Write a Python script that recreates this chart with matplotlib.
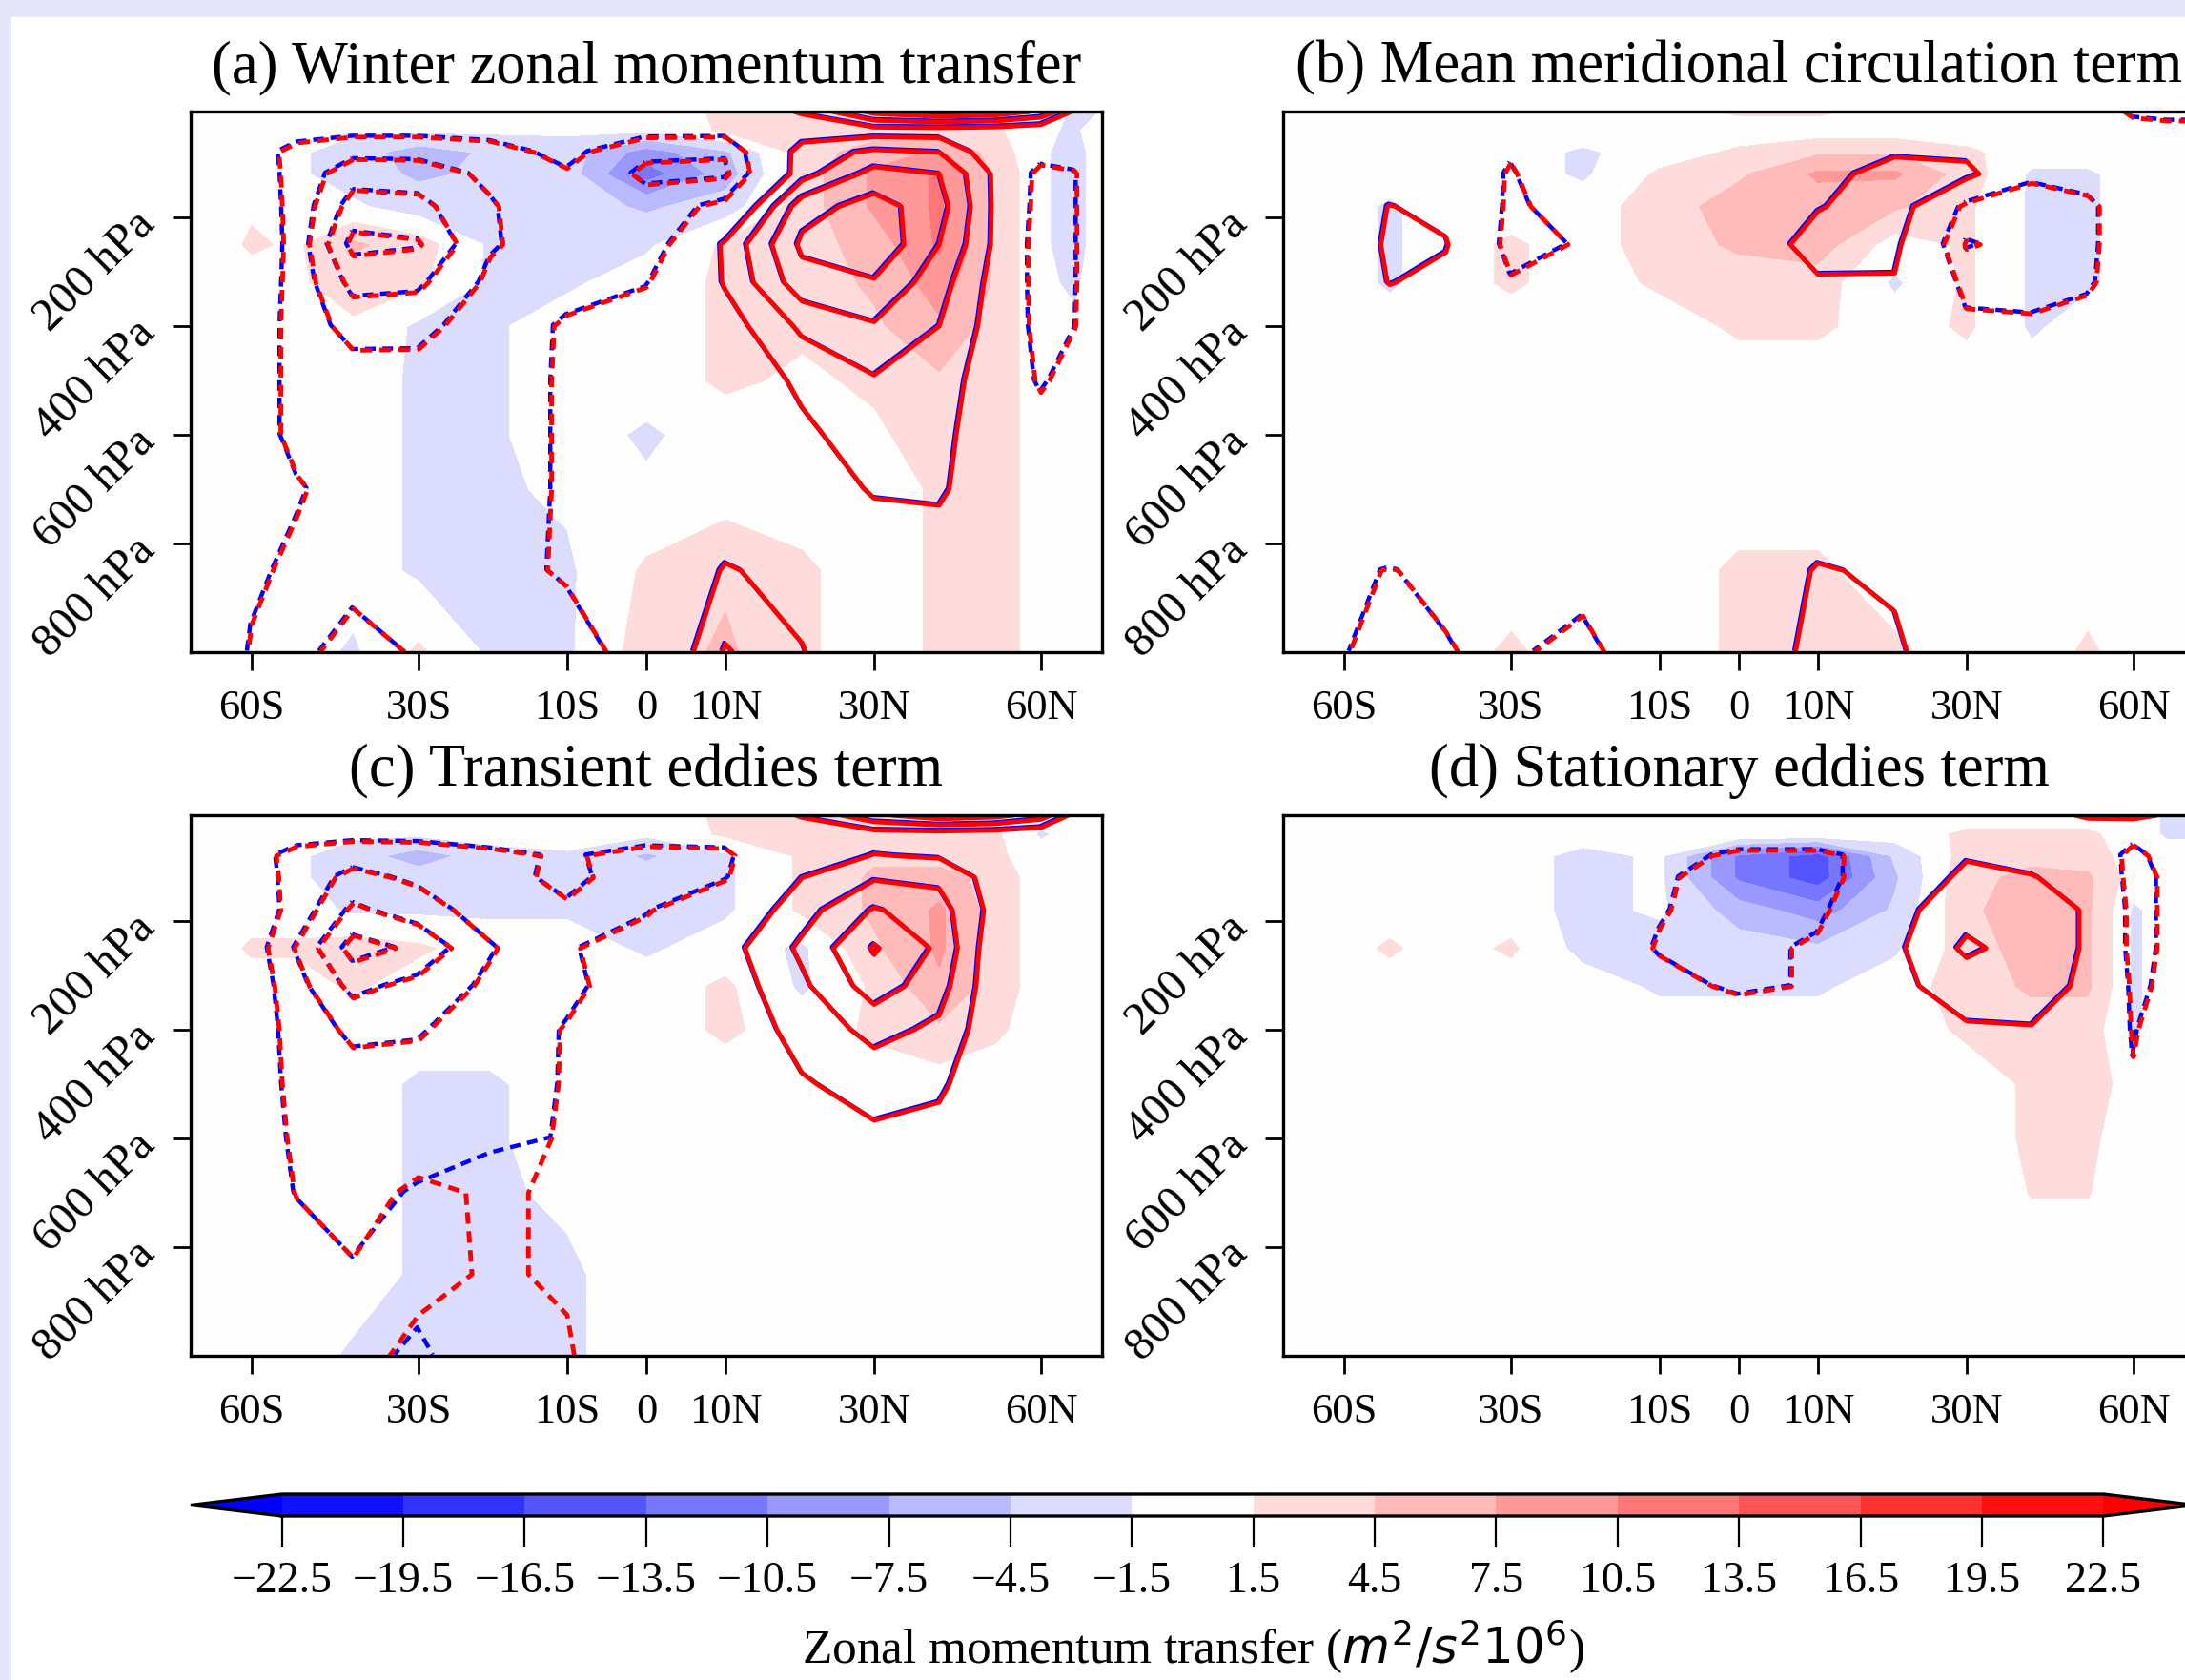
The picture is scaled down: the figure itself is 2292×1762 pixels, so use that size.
import numpy as np
import matplotlib
matplotlib.use("Agg")
import matplotlib.pyplot as plt
from matplotlib import transforms
from matplotlib.patches import Rectangle

plt.rcParams["font.family"] = ["Liberation Serif", "DejaVu Serif"]
plt.rcParams["mathtext.fontset"] = "dejavusans"

# grid: latitude (deg) and pressure (hPa)
LATS = [-90, -80, -70, -60, -50, -40, -30, -20, -10, 0, 10, 20, 30, 40, 50, 60, 70, 80, 90]
LEVS = [5, 40, 80, 120, 180, 250, 320, 400, 500, 600, 700, 850, 1000]

# (a) winter zonal momentum transfer
SHADE_A = [
    [0, 0, 0, 0, 0, 0, 0, 0, 0, 0, 2, 3, 3, 2, 2, 0, -2, -2, 0],
    [0, 0, 0, 0, 0, -1, -1, -1, -1, -1, 2, 3, 3, 3, 2, -1, -2, 0, 0],
    [0, 0, 0, 0, -1, -3, -6, -4, -3, -9, -5, 3, 6, 8, 3, -1, -3, 0, 0],
    [0, 0, 0, 0, -1, -3, -5, -4, -3, -12, -6, 3, 8, 11, 4, -1, -3, 0, 0],
    [0, 0, 0, 1, -1, -1, -3, -3, -3, -5, -3, 3, 8, 11, 4, -1, -3, 0, 0],
    [0, 0, 0, 2, 1, 5, 3, -2, -3, -2, 2, 3, 6, 11, 4, -1, -3, 0, 0],
    [0, 0, 0, 0, 1, 3, 2, -2, -2, 0, 2, 3, 5, 9, 4, -1, -2, 0, 0],
    [0, 0, 0, 0, 0, 1, -2, -2, 0, 0, 2, 2, 4, 7, 3, 0, -1, 0, 0],
    [0, 0, 0, 0, 0, 0, -2, -2, 0, 0, 2, 1, 2, 4, 3, 0, 0, 0, 0],
    [0, 0, 0, 0, 0, 0, -2, -2, 0, -2, 0, 0, 1, 3, 3, 0, 0, 0, 0],
    [0, 0, 0, 0, 0, 0, -2, -2, -1, -1, 0, 0, 0, 2, 3, 0, 0, 0, 0],
    [0, 0, 0, 0, 0, 0, -2, -2, -2, 2, 4, 2, 0, 2, 3, 0, 0, 0, 0],
    [0, 0, 0, 0, 0, -2, 2, -2, -2, 3, 5, 2, 0, 2, 3, 0, 0, 0, 0],
]
LINE_A = [
    [0, 0, 0, 0, 0, 0, 0, 0, 0, 0, 2, 11, 33, 39, 36, 28, 8, 0, 0],
    [0, 0, 0, -2, -6, -7, -7, -6, -5, -6, -6, 4, 5, 5, 4, 2, 0, 0, 0],
    [0, 0, -2, -5, -13, -17, -17, -14, -7, -18, -19, 15, 22, 20, 2, -3, -4, 0, 0],
    [0, 0, -1, -4, -13, -26, -25, -18, -11, -22, -22, 16, 34, 30, 8, -15, -11, 0, 0],
    [0, 0, -1, -3, -13, -34, -33, -21, -12, -16, -7, 36, 44, 34, 8, -16, -11, 0, 0],
    [0, 0, -1, -2, -13, -43, -41, -21, -15, -19, 12, 42, 48, 30, 8, -18, -11, 0, 0],
    [0, 0, -1, -3, -13, -33, -32, -18, -13, -11, 11, 36, 39, 24, 6, -17, -11, 0, 0],
    [0, 0, -1, -4, -13, -24, -23, -15, -9, -2, 5, 22, 29, 20, 5, -16, -10.5, 0, 0],
    [0, 0, -1, -4, -13, -15, -16, -14, -9, -3, 2, 12, 19, 16, 2, -12, -3, 0, 0],
    [0, 0, -1, -4, -13, -14, -15, -14, -9, -2, 0, 8, 15, 14, 0, -3, 0, 0, 0],
    [0, 0, -1, -3, -9, -14, -15, -14, -9, -2, 0, 4, 11, 12, 0, 0, 0, 0, 0],
    [0, 0, -1, -8, -12, -13, -12, -13, -9, -3, 11, 6, 2, 2, 0, 0, 0, 0, 0],
    [0, 0, 0, -11, -14, -28, -18, -15, -14, -6, 21, 10.5, 0, 0, 0, 0, 0, 0, 0],
]

# (b) mean meridional circulation term
SHADE_B = [
    [0, 0, 0, 0, 0, 0, 0, 0, 0, 2, 2, 0, 0, 0, 0, 0, 0, 0, 0],
    [0, 0, 0, 0, 0, 0, 0, 0, 0, 0, 0, 0, 0, 0, 0, 0, 0, 0, 0],
    [0, 0, 0, 0, 0, 0, 0, -2, 0, 2, 4, 4, 2, 0, 0, 0, 0, 0, 0],
    [0, 0, 0, 0, 0, 0, 0, -2, 2, 4, 8, 8, 3, -2, -2, 0, 0, 0, 0],
    [0, 0, 0, 0, -2, 0, 0, 0, 3, 6, 6, 5, 2, -2, -2, 0, 0, 0, 0],
    [0, 0, 0, 0, -2, 0, 2, 0, 3, 5, 6, 0, 2, -2, -2, 0, 0, 0, 0],
    [0, 0, 0, 0, -2, 0, 2, 0, 2, 3, 3, -2, 2, -2, -2, 0, 0, 0, 0],
    [0, 0, 0, 0, 0, 0, 0, 0, 0, 2, 2, 0, 2, -2, 0, 0, 0, 0, 0],
    [0, 0, 0, 0, 0, 0, 0, 0, 0, 0, 0, 0, 0, 0, 0, 0, 0, 0, 0],
    [0, 0, 0, 0, 0, 0, 0, 0, 0, 0, 0, 0, 0, 0, 0, 0, 0, 0, 0],
    [0, 0, 0, 0, 0, 0, 0, 0, 0, 0, 0, 0, 0, 0, 0, 0, 0, 0, 0],
    [0, 0, 0, 0, 0, 0, 0, 0, 0, 2, 2, 0, 0, 0, 0, 0, 0, 0, 0],
    [0, 0, 0, 0, 0, 0, 2, 0, 0, 2, 4, 2, 0, 0, 2, 0, 0, 0, 0],
]
LINE_B = [
    [0, 0, 0, 0, 0, 0, 0, 0, 0, 0, 0, 0, 0, 0, 0, -13, -14, -14, -5],
    [0, 0, 0, 0, 0, 0, -2, 0, 0, 0, 0, 0, 0, 0, 0, -4, -6, -6, -3],
    [0, 0, 0, 0, 0, 0, -9, 0, 0, 0, 0, 8, 7, 0, 0, 0, 0, 0, 0],
    [0, 0, 0, 0, 0, 0, -11, 0, 0, 0, 4, 17, 14, -8, -4, 0, 0, 0, 0],
    [0, 0, 0, 0, 10.5, 6, -12, -5, 0, 0, 9, 18, -13, -15, -13, 0, 0, 0, 0],
    [0, 0, 0, -4, 13, 11, -14, -9, 0, -3, 17, 13, -21, -16, -13, 0, 0, 0, 0],
    [0, 0, 0, 0, 10.5, 6, -9, -3, 0, 0, 8, 9, -13, -15, -12, 0, 0, 0, 0],
    [0, 0, 0, 0, 0, 0, 0, 0, 0, 0, 0, 0, -8, -8, -5, 0, 0, 0, 0],
    [0, 0, 0, 0, 0, 0, 0, 0, 0, 0, 0, 0, 0, 0, 0, 0, 0, 0, 0],
    [0, 0, 0, 0, 0, 0, 0, 0, 0, 0, 0, 0, 0, 0, 0, 0, 0, 0, 0],
    [0, 0, 0, 0, 0, 0, 0, 0, 0, 0, 0, 0, 0, 0, 0, 0, 0, 0, 0],
    [0, 0, 0, -8.5, -10.3, -8.5, -2, -5, 0, 0, 11, 8, 0, 0, 0, 0, 0, 0, 0],
    [0, 0, 0, -9, -16, -10.5, -8, -14, 0, 0, 14, 12, 0, 0, 0, 0, 0, 0, 0],
]

# (c) transient eddies term
SHADE_C = [
    [0, 0, 0, 0, 0, 0, 0, 0, 0, 0, 2, 2, 2, 0, 0, 0, 0, 0, 0],
    [0, 0, 0, 0, 0, -1, -1, 0, 0, -1, 2, 2, 2, 2, 2, -2, 0, 0, 0],
    [0, 0, 0, 0, -1, -3, -6, -3, -2, -5, -2, 2, 4, 3, 2, 0, 0, 0, 0],
    [0, 0, 0, 0, -1, -3, -3, -2, -2, -3, -2, 2, 5, 6, 3, 0, 0, 0, 0],
    [0, 0, 0, 0, 0, -2, -2, -2, -2, -3, -2, 2, 5, 8, 3, 0, 0, 0, 0],
    [0, 0, 0, 2, 2, 3, 2, 0, 0, -2, 0, -2, 4, 8, 3, 0, 0, 0, 0],
    [0, 0, 0, 0, 0, 2, 0, 0, 0, 0, 2, -2, 2, 7, 3, 0, 0, 0, 0],
    [0, 0, 0, 0, 0, 0, 0, 0, 0, 0, 2, 0, 2, 4, 2, 0, 0, 0, 0],
    [0, 0, 0, 0, 0, 0, -2, -2, 0, 0, 0, 0, 0, 0, 0, 0, 0, 0, 0],
    [0, 0, 0, 0, 0, 0, -2, -2, 0, 0, 0, 0, 0, 0, 0, 0, 0, 0, 0],
    [0, 0, 0, 0, 0, 0, -2, -2, -1, 0, 0, 0, 0, 0, 0, 0, 0, 0, 0],
    [0, 0, 0, 0, 0, 0, -2, -2, -2, 0, 0, 0, 0, 0, 0, 0, 0, 0, 0],
    [0, 0, 0, 0, 0, -2, -2, -2, -2, 0, 0, 0, 0, 0, 0, 0, 0, 0, 0],
]
LINE_C = [
    [0, 0, 0, 0, 0, 0, 0, 0, 0, 0, 0, 11, 28, 36, 33, 25, 6, 0, 0],
    [0, 0, 0, -2, -6, -7, -7, -6, -6, -6, -6, 3, 5, 5, 4, 2, 0, 0, 0],
    [0, 0, 0, -6, -13, -16, -15, -12, -9, -13, -12, 4, 10.5, 9, 4, 0, 0, 0, 0],
    [0, 0, 0, -5, -13, -23, -18, -13, -8, -14, -11, 10, 19, 18, 5, 0, 0, 0, 0],
    [0, 0, 0, -4, -13, -32, -25, -15, -11, -11, 0, 16, 31, 24, 6, 0, 0, 0, 0],
    [0, 0, 0, -3, -21, -44, -38, -21, -11, -5, 6, 22, 41, 28, 2, 0, 0, 0, 0],
    [0, 0, 0, -3, -16, -33, -27, -18, -12, -5, 4, 18, 35, 24, 2, 0, 0, 0, 0],
    [0, 0, 0, -3, -14, -22, -21, -15, -9.5, -3, 2, 14, 23, 18, 2, 0, 0, 0, 0],
    [0, 0, 0, -3, -13, -16, -16, -14, -9.5, -2, 0, 9, 14, 12, 0, 0, 0, 0, 0],
    [0, 0, 0, -2, -12, -15, -15, -12, -9.5, -2, 0, 4, 8, 6, 0, 0, 0, 0, 0],
    [0, 0, 0, -1, -10.5, -14, -8, -11, -9, -2, 0, 2, 4, 3, 0, 0, 0, 0, 0],
    [0, 0, 0, 0, -4, -9, -7, -11, -9, -1, 0, 0, 0, 0, 0, 0, 0, 0, 0],
    [0, 0, 0, 0, -2, -6, -13, -12, -11, 0, 0, 0, 0, 0, 0, 0, 0, 0, 0],
]
LINE_C_BLUE = [
    [0, 0, 0, 0, 0, 0, 0, 0, 0, 0, 0, 11, 28, 36, 33, 25, 6, 0, 0],
    [0, 0, 0, -2, -6, -7, -7, -6, -6, -6, -6, 3, 5, 5, 4, 2, 0, 0, 0],
    [0, 0, 0, -6, -13, -16, -15, -12, -9, -13, -12, 4, 10.5, 9, 4, 0, 0, 0, 0],
    [0, 0, 0, -5, -13, -23, -18, -13, -8, -14, -11, 10, 19, 18, 5, 0, 0, 0, 0],
    [0, 0, 0, -4, -13, -32, -25, -15, -11, -11, 0, 16, 31, 24, 6, 0, 0, 0, 0],
    [0, 0, 0, -3, -21, -44, -38, -21, -11, -5, 6, 22, 41, 28, 2, 0, 0, 0, 0],
    [0, 0, 0, -3, -16, -33, -27, -18, -12, -5, 4, 18, 35, 24, 2, 0, 0, 0, 0],
    [0, 0, 0, -3, -14, -22, -21, -15, -9.5, -3, 2, 14, 23, 18, 2, 0, 0, 0, 0],
    [0, 0, 0, -3, -13, -16, -16, -14, -9.5, -2, 0, 9, 14, 12, 0, 0, 0, 0, 0],
    [0, 0, 0, -2, -12, -15, -15, -12, -9.5, -2, 0, 4, 8, 6, 0, 0, 0, 0, 0],
    [0, 0, 0, -1, -10.5, -14, -9, -5, -3, -2, 0, 2, 4, 3, 0, 0, 0, 0, 0],
    [0, 0, 0, 0, -4, -9, -6, -3, -2, -1, 0, 0, 0, 0, 0, 0, 0, 0, 0],
    [0, 0, 0, 0, -2, -6, -12, -3, 0, 0, 0, 0, 0, 0, 0, 0, 0, 0, 0],
]

# (d) stationary eddies term
SHADE_D = [
    [0, 0, 0, 0, 0, 0, 0, 0, 0, 0, 0, 0, 0, 0, 0, 0, -2, -2, 0],
    [0, 0, 0, 0, 0, 0, 0, 0, 0, 1, 1, 0, 2, 2, 2, 0, -2, -2, 0],
    [0, 0, 0, 0, 0, 0, 0, -2.5, -1, -11, -15, -4, 3, 4, 3, 0, 0, 0, 0],
    [0, 0, 0, 0, 0, 0, 0, -2.5, -1, -11, -15, -5, 4, 5, 5, 0, 0, 0, 0],
    [0, 0, 0, 0, 0, 0, 0, -2.5, -1, -6, -9, -4, 4, 6, 5, -2, 0, 0, 0],
    [0, 0, 0, 0, 2, 0, 2, -2.5, -3, -3, -4, -2, 3, 6, 5, -2, 0, 0, 0],
    [0, 0, 0, 0, 0, 0, 0, 0, -2, -2, -2, 0, 3, 5, 5, -2, 0, 0, 0],
    [0, 0, 0, 0, 0, 0, 0, 0, 0, 0, 0, 0, 2, 3, 3, -2, 0, 0, 0],
    [0, 0, 0, 0, 0, 0, 0, 0, 0, 0, 0, 0, 0, 2, 3, 0, 0, 0, 0],
    [0, 0, 0, 0, 0, 0, 0, 0, 0, 0, 0, 0, 0, 2, 2, 0, 0, 0, 0],
    [0, 0, 0, 0, 0, 0, 0, 0, 0, 0, 0, 0, 0, 1.6, 1.6, 0, 0, 0, 0],
    [0, 0, 0, 0, 0, 0, 0, 0, 0, 0, 0, 0, 0, 0, 0, 0, 0, 0, 0],
    [0, 0, 0, 0, 0, 0, 0, 0, 0, 0, 0, 0, 0, 0, 0, 0, 0, 0, 0],
]
LINE_D = [
    [0, 0, 0, 0, 0, 0, 0, 0, 0, 0, 0, 0, 0, 4, 12, 14, 8, 0, 0],
    [0, 0, 0, 0, 0, 0, 0, 0, 0, -4, -4, -2, 0, 0, 0, -6, -3, 0, 0],
    [0, 0, 0, 0, 0, 0, 0, 0, -6, -12, -12, -6, 9, 4, 0, -14, -4, 0, 0],
    [0, 0, 0, 0, 0, 0, 0, 0, -8, -16, -15, 0, 13, 11, 2, -14, -8, 0, 0],
    [0, 0, 0, 0, 0, 0, 0, 0, -9, -16, -13, 7, 16, 15, 9, -14, -8, 0, 0],
    [0, 0, 0, 0, 0, 0, 0, 0, -11, -14, -8, 8, 22, 15, 9, -14, -8, 0, 0],
    [0, 0, 0, 0, 0, 0, 0, 0, -6, -12, -9, 8, 14, 14, 8, -12, -8, 0, 0],
    [0, 0, 0, 0, 0, 0, 0, 0, 0, -2, 0, 3, 9, 9.5, 6, -11, -3, 0, 0],
    [0, 0, 0, 0, 0, 0, 0, 0, 0, 0, 0, 0, 0, 0, 0, -9, 0, 0, 0],
    [0, 0, 0, 0, 0, 0, 0, 0, 0, 0, 0, 0, 0, 0, 0, 0, 0, 0, 0],
    [0, 0, 0, 0, 0, 0, 0, 0, 0, 0, 0, 0, 0, 0, 0, 0, 0, 0, 0],
    [0, 0, 0, 0, 0, 0, 0, 0, 0, 0, 0, 0, 0, 0, 0, 0, 0, 0, 0],
    [0, 0, 0, 0, 0, 0, 0, 0, 0, 0, 0, 0, 0, 0, 0, 0, 0, 0, 0],
]

TITLES = ["(a) Winter zonal momentum transfer", "(b) Mean meridional circulation term",
          "(c) Transient eddies term", "(d) Stationary eddies term"]
X_TICKS = [-60, -30, -10, 0, 10, 30, 60]
X_LABELS = ["60S", "30S", "10S", "0", "10N", "30N", "60N"]
Y_TICKS = [200, 400, 600, 800]
Y_LABELS = ["200 hPa", "400 hPa", "600 hPa", "800 hPa"]
SHADE_LEVELS = [-22.5, -19.5, -16.5, -13.5, -10.5, -7.5, -4.5, -1.5,
                1.5, 4.5, 7.5, 10.5, 13.5, 16.5, 19.5, 22.5]
LINE_LEVELS = [-40, -30, -20, -10, 10, 20, 30, 40, 50, 60]


def sin_lat(lat):
    return np.sin(np.deg2rad(lat))


def lat_of(x):
    return np.rad2deg(np.arcsin(np.clip(x, -1, 1)))


def draw_lines(ax, X, Y, field, color, neg_style, lw, transform):
    z = np.array(field, float)
    for lv in LINE_LEVELS:
        if not (z.min() < lv < z.max()):
            continue
        style = neg_style if lv < 0 else "solid"
        ax.contour(X, Y, z, levels=[lv], colors=color, linewidths=lw,
                   linestyles=[style], transform=transform)


W, H = 2292, 1762
fig = plt.figure(figsize=(W / 200, H / 200), dpi=200)
fig.patch.set_facecolor("#e6e6fa")
fig.add_artist(Rectangle((12 / W, 0), 1, 1 - 18 / H, transform=fig.transFigure,
                         facecolor="white", edgecolor="none", zorder=-10))

ax_w, ax_h = 956 / W, 567 / H
boxes = [(200 / W, 1 - 684 / H), (1346 / W, 1 - 684 / H),
         (200 / W, 1 - 1422 / H), (1346 / W, 1 - 1422 / H)]
panels = [(SHADE_A, LINE_A, LINE_A), (SHADE_B, LINE_B, LINE_B),
          (SHADE_C, LINE_C, LINE_C_BLUE), (SHADE_D, LINE_D, LINE_D)]

X, Y = np.meshgrid(LATS, LEVS)
red_neg = (0, (2.5, 1.6))
blue_neg = (2.2, (2.5, 1.6))
cf = None
for (x0, y0), (shade, red, blue), title in zip(boxes, panels, TITLES):
    ax = fig.add_axes([x0, y0, ax_w, ax_h])
    ax.set_xscale("function", functions=(sin_lat, lat_of))
    cf = ax.contourf(X, Y, np.array(shade, float), levels=SHADE_LEVELS,
                     cmap="bwr", extend="both")
    shift = transforms.offset_copy(ax.transData, fig=fig, x=-0.5, y=0.5, units="points")
    draw_lines(ax, X, Y, blue, "blue", blue_neg, 1.6, shift)
    draw_lines(ax, X, Y, red, "red", red_neg, 1.75, ax.transData)
    ax.set_xlim(-90, 90)
    ax.set_ylim(1000, 5)
    ax.set_xticks(X_TICKS)
    ax.set_xticklabels(X_LABELS)
    ax.set_yticks(Y_TICKS)
    ax.set_yticklabels(Y_LABELS, rotation=45, ha="right", va="center",
                       rotation_mode="anchor")
    ax.minorticks_off()
    ax.tick_params(length=7, width=1.0, labelsize=16, pad=7)
    ax.tick_params(axis="y", labelsize=17.5, pad=9)
    for s in ax.spines.values():
        s.set_linewidth(1.2)
    ax.set_title(title, fontsize=22.5, pad=11)

cax = fig.add_axes([200 / W, 1 - 1590 / H, 2102 / W, 23 / H])
cb = fig.colorbar(cf, cax=cax, orientation="horizontal", ticks=SHADE_LEVELS)
cb.outline.set_linewidth(1.2)
cb.ax.tick_params(length=12, width=0.8, labelsize=16.5, pad=5)
cb.set_label("Zonal momentum transfer ($m^2/s^2 10^6$)", fontsize=18.5, labelpad=6)

fig.savefig("out.png", dpi=200, facecolor=fig.get_facecolor())
